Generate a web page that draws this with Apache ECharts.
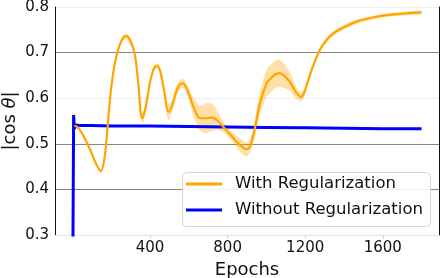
<!DOCTYPE html>
<html>
<head>
<meta charset="utf-8">
<script src="https://cdn.jsdelivr.net/npm/echarts@6/dist/echarts.min.js"></script>
<style>html,body{margin:0;padding:0;background:#fff}#c{width:440px;height:278px}</style>
</head>
<body>
<div id="c"></div>
<script>
// With Regularization: epoch, mean value, band half-width
var regEpochs = [10,30,60,90,120,146,165,182,194,210,231,255,276,300,322,340,359,375,400,420,438,455,475,494,515,540,569,595,625,658,690,718,750,778,810,839,870,899,920,942,967,1001,1019,1045,1068,1095,1122,1156,1178,1195,1210,1242,1276,1311,1345,1397,1465,1551,1620,1689,1750,1800];
var regValues = [0.540,0.535,0.515,0.488,0.458,0.440,0.468,0.540,0.600,0.655,0.700,0.728,0.736,0.725,0.695,0.630,0.556,0.575,0.635,0.665,0.671,0.655,0.610,0.570,0.585,0.620,0.633,0.615,0.580,0.556,0.556,0.558,0.550,0.537,0.522,0.508,0.495,0.488,0.500,0.537,0.589,0.633,0.642,0.652,0.655,0.648,0.635,0.611,0.603,0.612,0.632,0.672,0.706,0.728,0.742,0.755,0.768,0.777,0.782,0.785,0.787,0.788];
var regSpread = [0.004,0.004,0.004,0.004,0.004,0.004,0.004,0.004,0.004,0.004,0.005,0.006,0.006,0.008,0.008,0.010,0.012,0.010,0.006,0.006,0.006,0.008,0.012,0.018,0.014,0.012,0.010,0.012,0.020,0.028,0.033,0.030,0.020,0.012,0.010,0.012,0.015,0.015,0.015,0.020,0.025,0.030,0.030,0.030,0.030,0.026,0.020,0.012,0.010,0.009,0.008,0.007,0.006,0.006,0.005,0.005,0.005,0.004,0.004,0.004,0.004,0.004];
// Without Regularization
var noRegEpochs = [1,6,10,16,40,100,200,400,600,800,1000,1200,1400,1600,1800];
var noRegValues = [0.15,0.563,0.533,0.541,0.540,0.540,0.539,0.539,0.538,0.537,0.536,0.535,0.534,0.533,0.533];
var xTicks = [400,800,1200,1600];
var yTicks = [0.3,0.4,0.5,0.6,0.7,0.8];
var seriesNames = ['With Regularization','Without Regularization'];

var meanData = regEpochs.map(function(e,i){return [e, regValues[i]];});
var bandData = regEpochs.map(function(e,i){return [e, regValues[i]-regSpread[i], regValues[i]+regSpread[i]];});
var blueData = noRegEpochs.map(function(e,i){return [e, noRegValues[i]];});

var chart = echarts.init(document.getElementById('c'), null, {renderer:'canvas'});
var font = 'DejaVu Sans';
chart.setOption({
  animation:false,
  grid:{left:55,right:1,top:7,bottom:43,containLabel:false,outerBoundsMode:'none'},
  graphic:[{
    type:'rect', left:182, top:172, z:3, silent:true,
    shape:{width:248, height:54, r:4},
    style:{fill:'rgba(255,255,255,0.85)', stroke:'#d6d6d6', lineWidth:1}
  }],
  legend:{
    orient:'vertical', left:186, top:175, z:4,
    data:seriesNames,
    itemWidth:44, itemHeight:3, itemGap:8,
    icon:'path://M0,0L36,0L36,3L0,3Z M44,0L44,3',
    padding:0,
    itemStyle:{borderWidth:0},
    textStyle:{fontFamily:font,fontSize:16.5,color:'#111',lineHeight:18}
  },
  xAxis:{
    type:'value', min:-90, max:1890,
    name:'Epochs', nameLocation:'middle', nameGap:23,
    nameTextStyle:{fontFamily:font,fontSize:18,color:'#111'},
    axisLine:{show:true,onZero:false,lineStyle:{color:'#e4e4e4',width:1}},
    axisTick:{show:true,customValues:xTicks,length:4,lineStyle:{color:'#d8d8d8'}},
    axisLabel:{customValues:xTicks,fontFamily:font,fontSize:15,color:'#111',margin:6,formatter:function(v){return String(v);}},
    splitLine:{show:false}
  },
  yAxis:[{
    type:'value', min:0.3, max:0.8, interval:0.1,
    name:'|cos {i|θ}|', nameLocation:'middle', nameRotate:90, nameGap:36, nameMoveOverlap:false,
    nameTextStyle:{fontFamily:font,fontSize:18,color:'#111',rich:{i:{fontFamily:font,fontSize:18,fontStyle:'italic',color:'#111'}}},
    axisLine:{show:true,onZero:false,lineStyle:{color:'#111',width:1}},
    axisTick:{show:false},
    axisLabel:{fontFamily:font,fontSize:15,color:'#111',margin:6,formatter:function(v){return v.toFixed(1);}},
    splitLine:{show:true,lineStyle:{color:['#e4e4e4','#858585','#858585','#eeeeee','#858585','#eeeeee'],width:1}}
  },{
    type:'value', min:0.3, max:0.8, position:'right',
    axisLine:{show:true,onZero:false,lineStyle:{color:'#111',width:1}},
    axisTick:{show:false}, axisLabel:{show:false}, splitLine:{show:false}
  }],
  series:[
    {
      name:'band', type:'custom', silent:true, z:1,
      data:bandData,
      encode:{x:0,y:[1,2]},
      renderItem:function(params, api){
        if (params.dataIndex !== 0) return null;
        var upper = [], lower = [];
        for (var i=0;i<bandData.length;i++){
          upper.push(api.coord([bandData[i][0], bandData[i][2]]));
          lower.push(api.coord([bandData[i][0], bandData[i][1]]));
        }
        var pts = upper.concat(lower.reverse());
        return {type:'polygon', shape:{points:pts, smooth:0.3}, style:{fill:'rgba(255,165,0,0.35)'}};
      },
      clip:true
    },
    {name:seriesNames[1],type:'line',data:blueData,symbol:'none',color:'#0000ff',lineStyle:{color:'#0000ff',width:3},z:2},
    {name:seriesNames[0],type:'line',data:meanData,smooth:0.35,symbol:'none',color:'#ffa500',lineStyle:{color:'#ffa500',width:2.2},z:2.5}
  ]
});
</script>
</body>
</html>
